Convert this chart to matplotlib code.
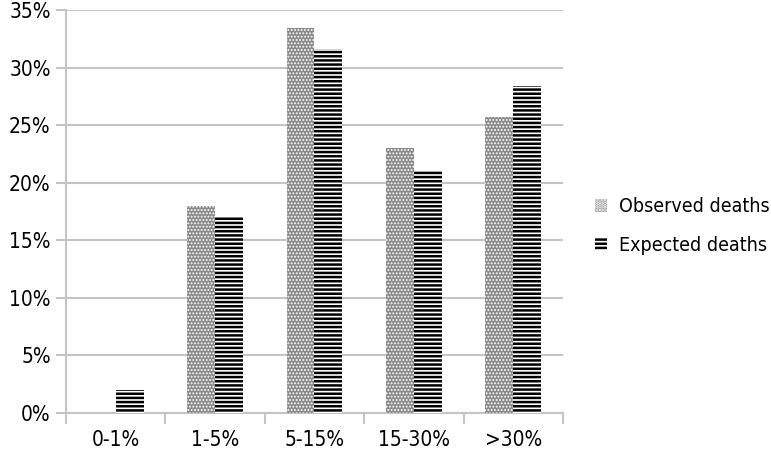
import matplotlib.pyplot as plt
import numpy as np

# data
categories = ['0-1%', '1-5%', '5-15%', '15-30%', '>30%']
observed = [0.0, 18.0, 33.4, 23.0, 25.7]
expected = [2.0, 17.1, 31.6, 21.0, 28.4]
yticks = [0, 5, 10, 15, 20, 25, 30, 35]

plt.rcParams['font.family'] = ['DejaVu Sans']
plt.rcParams['font.stretch'] = 'condensed'

fig = plt.figure(figsize=(7.71, 4.54), dpi=100)
ax = fig.add_axes([0.0856, 0.0903, 0.6446, 0.8877])

x = np.arange(len(categories))
w = 0.28
grid_c = '#c4c4c4'

plt.rcParams['hatch.color'] = '#d8d8d8'
plt.rcParams['hatch.linewidth'] = 0.9
ax.bar(x - w / 2, observed, w, color='#8a8a8a', hatch='.....', edgecolor='white',
       linewidth=0, label='Observed deaths', zorder=3)
plt.rcParams['hatch.color'] = 'black'
plt.rcParams['hatch.linewidth'] = 1.8
ax.bar(x + w / 2, expected, w, color='white', hatch='----', edgecolor='black',
       linewidth=0, label='Expected deaths', zorder=3)

ax.set_xlim(-0.5, len(categories) - 0.5)
ax.set_ylim(0, 35)
ax.set_yticks(yticks)
ax.set_yticklabels([f'{t}%' for t in yticks])
ax.set_xticks(x)
ax.set_xticklabels(categories)
ax.set_xticks(np.arange(-0.5, len(categories)), minor=True)

ax.yaxis.grid(True, color=grid_c, linewidth=1.5, zorder=0)
for s in ['top', 'right']:
    ax.spines[s].set_visible(False)
ax.spines['left'].set_color(grid_c)
ax.spines['left'].set_linewidth(1.5)
ax.spines['bottom'].set_color(grid_c)
ax.spines['bottom'].set_linewidth(1.5)

ax.tick_params(axis='y', length=7, width=1.5, color=grid_c, labelsize=15, pad=4)
ax.tick_params(axis='x', which='major', length=0, labelsize=15, pad=12)
ax.tick_params(axis='x', which='minor', length=8, width=1.5, color=grid_c)

leg = ax.legend(loc='center left', bbox_to_anchor=(1.03, 0.464), frameon=False,
                fontsize=14, handlelength=0.6, handleheight=0.6, labelspacing=1.0,
                handletextpad=0.6)

fig.savefig('out.png', dpi=100)
